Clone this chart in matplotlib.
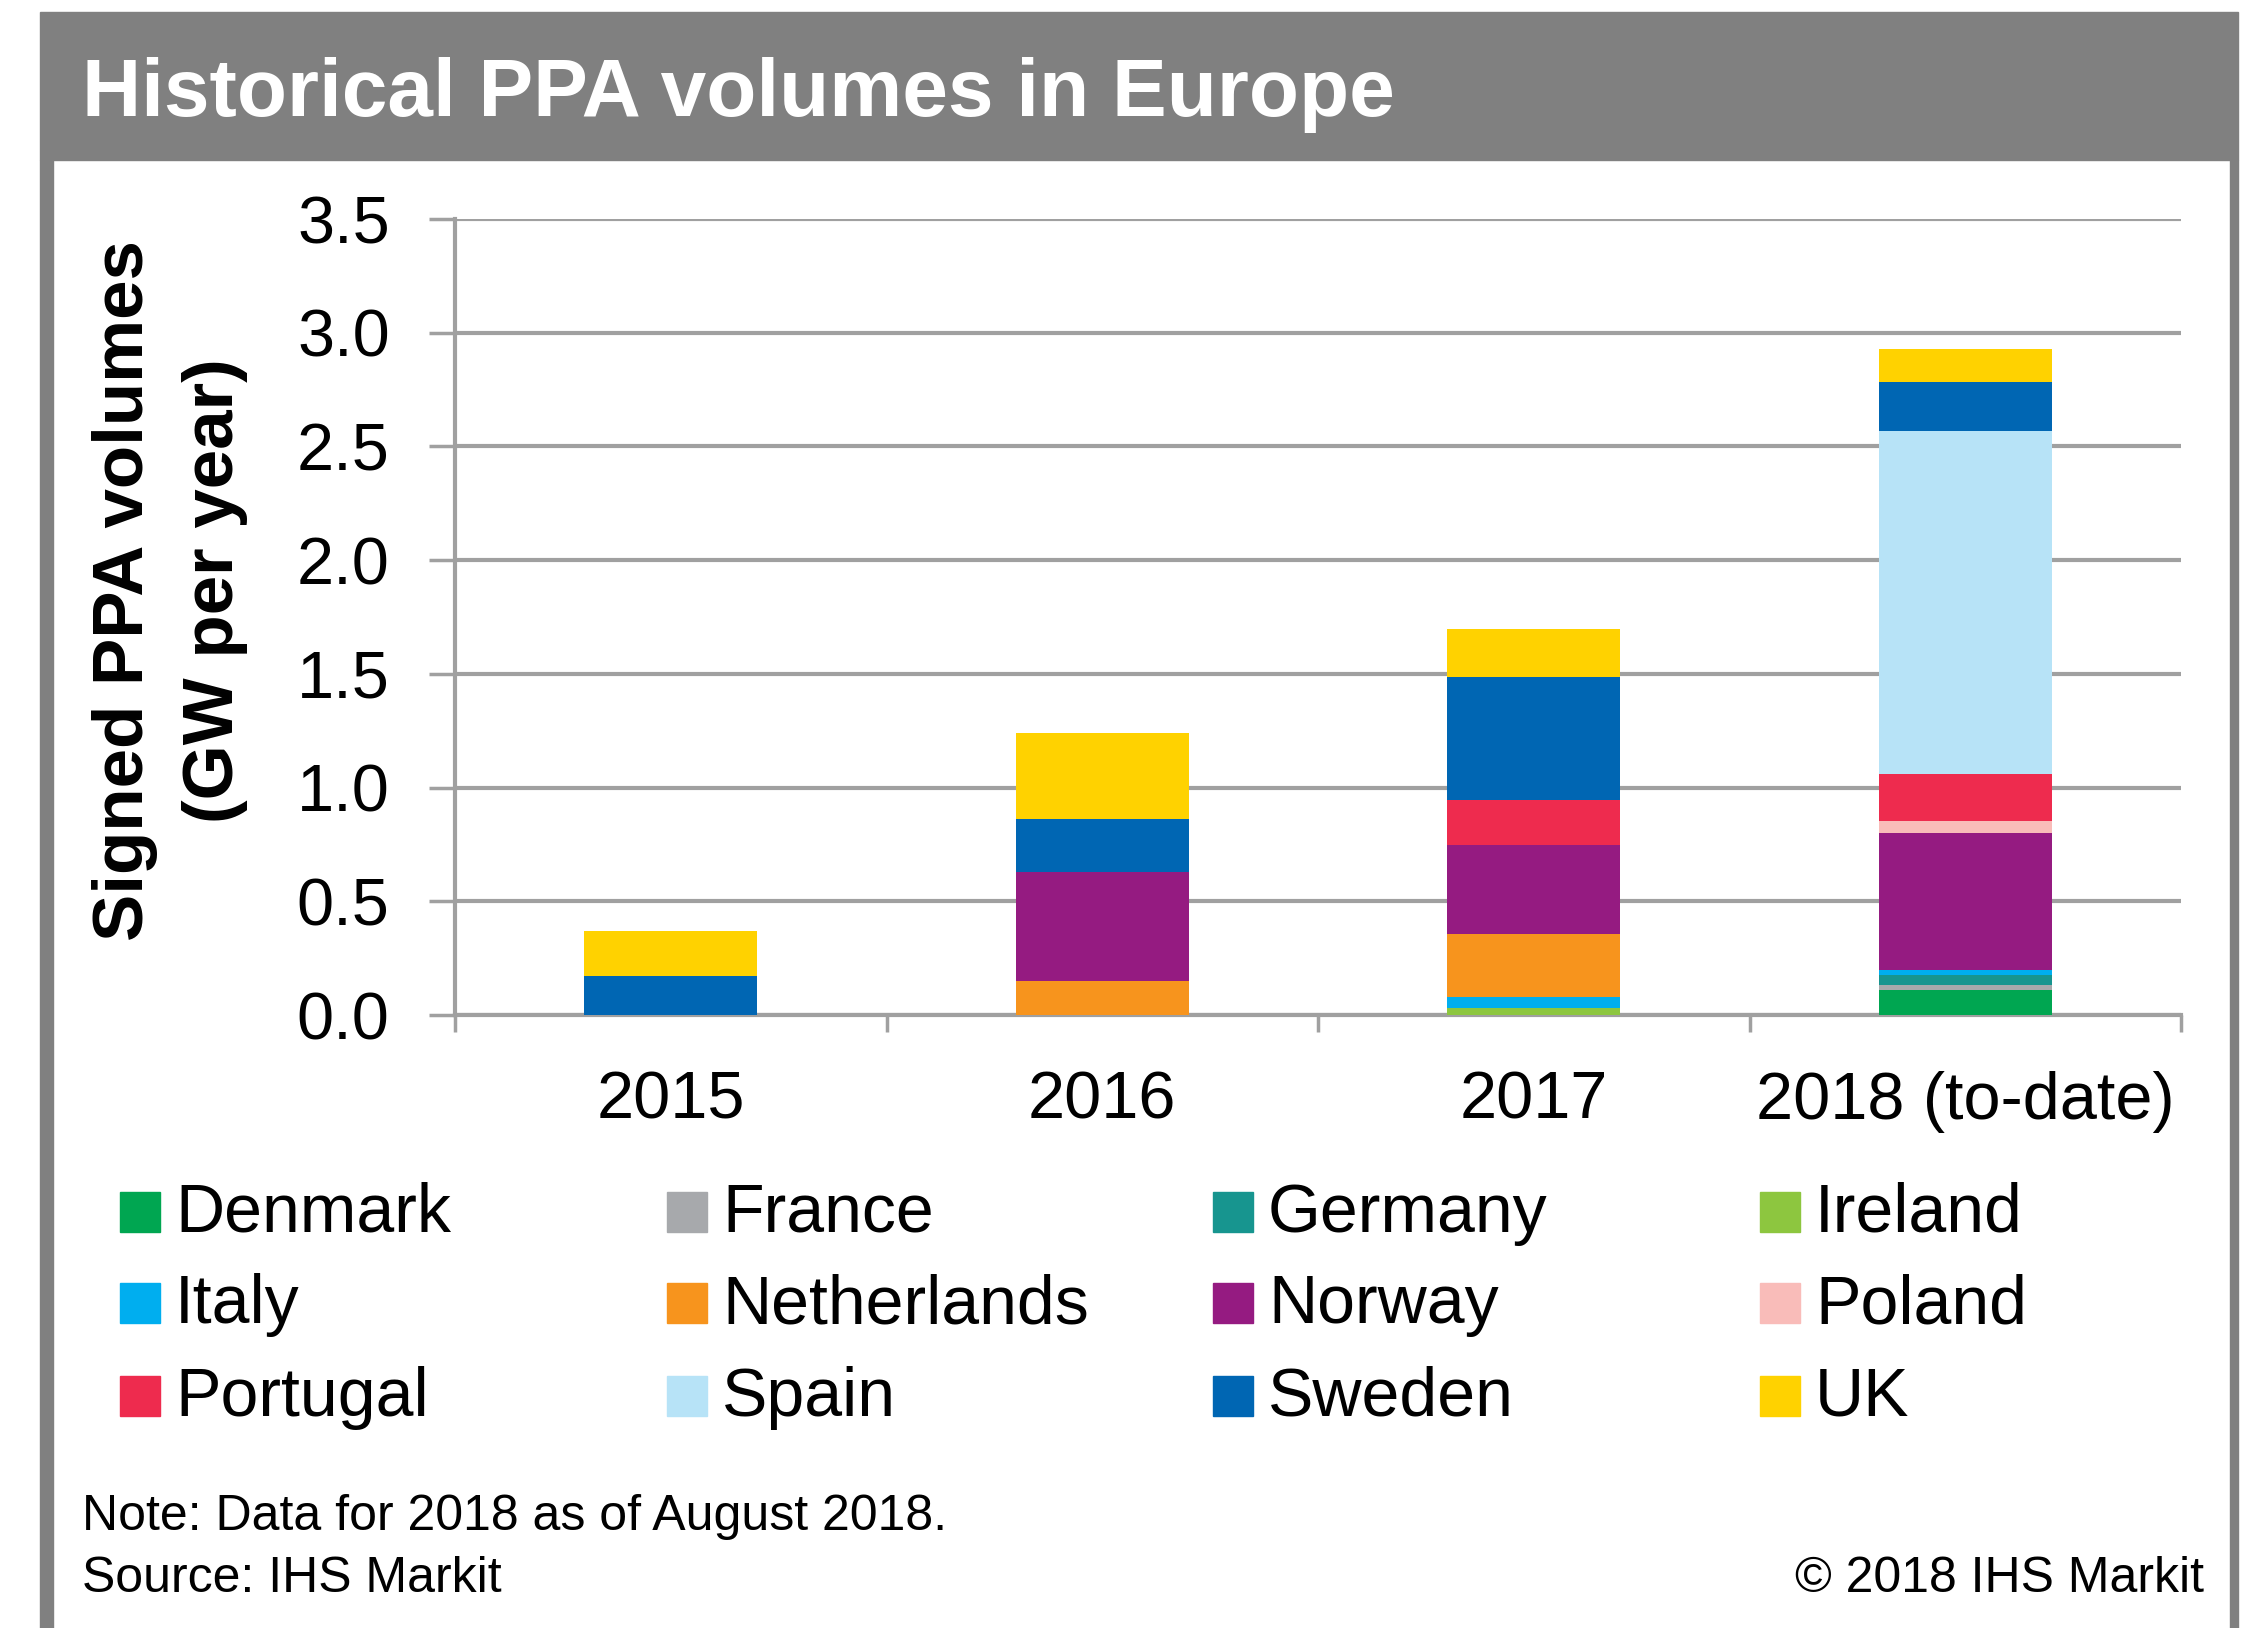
import numpy as np
import matplotlib.pyplot as plt
from matplotlib.patches import Rectangle

plt.rcParams['font.family'] = ['Liberation Sans', 'DejaVu Sans']

years = ["2015", "2016", "2017", "2018 (to-date)"]
countries = ["Denmark", "France", "Germany", "Ireland", "Italy", "Netherlands",
             "Norway", "Poland", "Portugal", "Spain", "Sweden", "UK"]
colors = ["#00a651", "#a7a9ac", "#17958f", "#8dc63f", "#00aeef", "#f7941d",
          "#951b81", "#f9bcb9", "#ee2b4e", "#b7e3f7", "#0066b3", "#ffd200"]

# GW per year
denmark     = [0.0, 0.0, 0.0,   0.11]
france      = [0.0, 0.0, 0.0,   0.02]
germany     = [0.0, 0.0, 0.0,   0.045]
ireland     = [0.0, 0.0, 0.03,  0.0]
italy       = [0.0, 0.0, 0.05,  0.025]
netherlands = [0.0, 0.15, 0.276, 0.0]
norway      = [0.0, 0.48, 0.39,  0.60]
poland      = [0.0, 0.0, 0.0,   0.055]
portugal    = [0.0, 0.0, 0.20,  0.205]
spain       = [0.0, 0.0, 0.0,   1.51]
sweden      = [0.17, 0.23, 0.54, 0.215]
uk          = [0.20, 0.38, 0.21, 0.145]

series = [denmark, france, germany, ireland, italy, netherlands,
          norway, poland, portugal, spain, sweden, uk]

W, H = 2245, 1628
fig = plt.figure(figsize=(W / 100, H / 100), dpi=100)

def fx(px):
    return px / W

def fy(py):
    return 1 - py / H

# frame and title band
grey = "#808080"
fig.patches.append(Rectangle((fx(40), fy(160)), fx(2238 - 40), (160 - 12) / H,
                             transform=fig.transFigure, color=grey, zorder=0))
fig.patches.append(Rectangle((fx(40), 0), fx(13), fy(160),
                             transform=fig.transFigure, color=grey, zorder=0))
fig.patches.append(Rectangle((fx(2230), 0), fx(8), fy(160),
                             transform=fig.transFigure, color=grey, zorder=0))
fig.text(fx(82), fy(95), "Historical PPA volumes in Europe", color="white",
         fontsize=59, fontweight="bold", ha="left", va="center")

ax = fig.add_axes([fx(455), fy(1015), fx(2181 - 455), (1015 - 219) / H])
x = np.arange(len(years))
bottom = np.zeros(len(years))
for name, vals, c in zip(countries, series, colors):
    ax.bar(x, vals, width=0.4, bottom=bottom, color=c, label=name, zorder=3)
    bottom += np.array(vals)

ax.set_xlim(-0.5, 3.5)
ax.set_ylim(0, 3.5)
ax.set_yticks(np.arange(0, 3.51, 0.5))
ax.set_yticklabels([f"{v:.1f}" for v in np.arange(0, 3.51, 0.5)])
ax.yaxis.grid(True, color="#a0a0a0", linewidth=3, zorder=0)
ax.tick_params(axis="y", length=19, width=2.5, color="#a0a0a0", pad=28,
               labelsize=48)
ax.set_xticks(np.arange(-0.5, 3.6, 1.0))
ax.set_xticklabels([])
ax.set_xticks(x, minor=True)
ax.set_xticklabels(years, minor=True)
ax.tick_params(axis="x", which="major", length=12, width=2.5, color="#a0a0a0")
ax.tick_params(axis="x", which="minor", length=0, pad=40, labelsize=48)
for s in ["top", "right"]:
    ax.spines[s].set_visible(False)
ax.spines["left"].set_color("#a0a0a0")
ax.spines["left"].set_linewidth(3)
ax.spines["bottom"].set_color("#a0a0a0")
ax.spines["bottom"].set_linewidth(3)

fig.text(fx(125), fy(591), "Signed PPA volumes", rotation=90, fontsize=51,
         fontweight="bold", ha="center", va="center")
fig.text(fx(215), fy(591), "(GW per year)", rotation=90, fontsize=51,
         fontweight="bold", ha="center", va="center")

# legend, row by row
col_x = [120, 667, 1213, 1760]
row_y = [1212, 1303, 1396]
for i, (name, c) in enumerate(zip(countries, colors)):
    r, k = divmod(i, 4)
    px, py = col_x[k], row_y[r]
    fig.patches.append(Rectangle((fx(px), fy(py + 20)), fx(40), 40 / H,
                                 transform=fig.transFigure, color=c))
    fig.text(fx(px + 55), fy(py + 2), name, fontsize=49, ha="left", va="center")

fig.text(fx(82), fy(1517), "Note: Data for 2018 as of August 2018.",
         fontsize=36, ha="left", va="center")
fig.text(fx(82), fy(1579), "Source: IHS Markit", fontsize=36, ha="left",
         va="center")
fig.text(fx(2204), fy(1579), "\u00a9 2018 IHS Markit", fontsize=36,
         ha="right", va="center")

fig.savefig("out.png", dpi=100)
